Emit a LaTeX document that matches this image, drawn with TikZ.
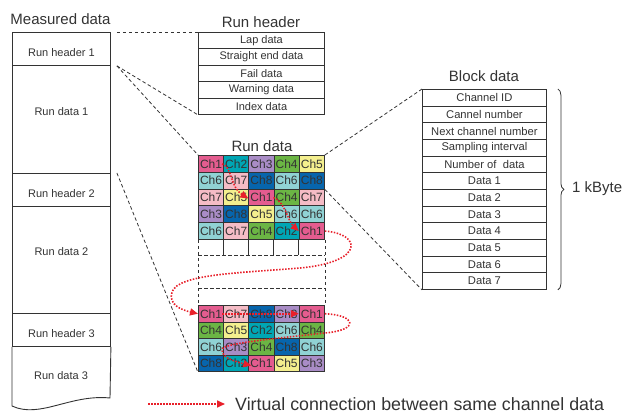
\documentclass[tikz,border=0pt]{standalone}
\usepackage{fontspec}
\setmainfont{Liberation Sans}
\usetikzlibrary{arrows.meta,decorations.pathreplacing,calc}

\definecolor{ink}{HTML}{333333}
\definecolor{vred}{HTML}{E8202A}
\definecolor{ch1}{HTML}{E45C8F}
\definecolor{ch2}{HTML}{00A6B4}
\definecolor{ch3}{HTML}{A98CC6}
\definecolor{ch4}{HTML}{6BB544}
\definecolor{ch5}{HTML}{F4EF8E}
\definecolor{ch6}{HTML}{90D2D4}
\definecolor{ch7}{HTML}{F5BCC6}
\definecolor{ch8}{HTML}{0765AC}

\tikzset{
  title/.style={font=\fontsize{15}{15}\selectfont, text=ink, inner sep=0pt},
  colbox/.style={draw=ink, line width=0.9pt, minimum width=98pt, inner sep=0pt, anchor=north west},
  collabel/.style={font=\fontsize{11}{11}\selectfont, text=ink, inner sep=0pt},
  hdrrow/.style={draw=ink, line width=0.9pt, minimum width=126pt, minimum height=16.4pt, inner sep=0pt,
    anchor=north west, font=\fontsize{11}{11}\selectfont, text=ink},
  blkrow/.style={draw=ink, line width=0.9pt, minimum width=124pt, minimum height=16.667pt, inner sep=0pt,
    anchor=north west, font=\fontsize{11.2}{11.2}\selectfont, text=ink},
  cell/.style={draw=ink, line width=0.9pt, minimum width=25.2pt, inner sep=0pt, anchor=north west,
    font=\fontsize{12}{12}\selectfont, text=ink},
  dsh/.style={draw=ink, line width=0.8pt, dash pattern=on 3.5pt off 2.5pt},
  vc/.style={draw=vred, line width=1.6pt, dash pattern=on 1.5pt off 1.5pt,
    -{Triangle[length=8pt,width=7pt,fill=vred]}},
}

\begin{document}
\begin{tikzpicture}[x=1pt,y=-1pt]
\useasboundingbox (0,0) rectangle (624,414);

% ---------- measured data column ----------
\node[title] (tmeas) at (60.5,19) {Measured data};
\node[colbox, minimum height=33pt]  (rh1) at (12,32)  {};
\node[colbox, minimum height=108pt] (rd1) at (12,65)  {};
\node[colbox, minimum height=33pt]  (rh2) at (12,173) {};
\node[colbox, minimum height=107pt] (rd2) at (12,206) {};
\node[colbox, minimum height=33pt]  (rh3) at (12,313) {};
\draw[ink, line width=0.9pt] (rh3.south west) -- (12,406)
  .. controls (40,419) and (70,394) .. (110,398) -- (rh3.south east);
\node[collabel] at ($(rh1.center)+(0,4)$) {Run header 1};
\node[collabel] at ($(rd1.center)+(0,-8)$) {Run data 1};
\node[collabel] at ($(rh2.center)+(0,4)$) {Run header 2};
\node[collabel] at ($(rd2.center)+(0,-8)$) {Run data 2};
\node[collabel] at ($(rh3.center)+(0,4)$) {Run header 3};
\node[collabel] at (61,376) {Run data 3};

% ---------- run header ----------
\node[title] (thdr) at (261,22) {Run header};
\foreach \t [count=\i] in {Lap data, Straight end data, Fail data, Warning data, Index data}
  \node[hdrrow] (hd\i) at (198,{32+(\i-1)*16.4}) {\t};

% ---------- run data grids ----------
\node[title] (trun) at (262,146) {Run data};
\foreach \row [count=\r] in {{1,2,3,4,5},{6,7,8,6,8},{7,5,1,4,7},{3,8,5,6,6},{6,7,4,2,1}}
  \foreach \ch [count=\c] in \row
    \node[cell, minimum height=16.8pt, fill=ch\ch] (g1-\r-\c) at ({198+(\c-1)*25.2},{155+(\r-1)*16.8}) {Ch\ch};
\foreach \row [count=\r] in {{1,7,8,3,1},{4,5,2,6,4},{6,3,4,8,6},{8,2,1,5,3}}
  \foreach \ch [count=\c] in \row
    \node[cell, minimum height=16.6pt, fill=ch\ch] (g2-\r-\c) at ({198+(\c-1)*25.2},{305+(\r-1)*16.6}) {Ch\ch};

% omitted blocks between the two grids
\coordinate (gapA) at (198,255);
\coordinate (gapB) at (198,288);
\foreach \c in {2,...,5}
  \draw[ink, line width=0.9pt] (g1-5-\c.south west) -- (g1-5-\c.south west |- gapA);
\draw[dsh] (g1-5-1.south west) -- (g2-1-1.north west);
\draw[dsh] (g1-5-5.south east) -- (g2-1-5.north east);
\draw[dsh] (gapA) -- (gapA -| g1-5-5.south east);
\draw[dsh] (gapB) -- (gapB -| g1-5-5.south east);

% ---------- block data ----------
\node[title] (tblk) at (484,76) {Block data};
\foreach \t [count=\i] in {Channel ID, Cannel number, Next channel number, Sampling interval,
    Number of\ \ data, Data 1, Data 2, Data 3, Data 4, Data 5, Data 6, Data 7}
  \node[blkrow] (bk\i) at (422,{89+(\i-1)*16.667}) {\t};
\draw[ink, line width=0.8pt, decorate, decoration={brace, amplitude=6pt}]
  ($(bk1.north east)+(11,0)$) -- ($(bk12.south east)+(11,0)$);
\node[title, anchor=west] (kb) at (572,189) {1 kByte};

% ---------- zoom-in guide lines ----------
\draw[dsh] ([xshift=6pt]rh1.north east) -- (hd1.north west);
\draw[dsh] ([xshift=6pt]rh1.south east) -- (hd5.south west);
\draw[dsh] ([xshift=6pt]rh1.south east) -- (g1-1-1.north west);
\draw[dsh] ([xshift=6pt]rh2.north east) -- (g2-4-1.south west);
\draw[dsh] (g1-1-5.north east) -- (bk1.north west);
\draw[dsh] (g1-2-5.south east) -- (bk12.south west);

% ---------- virtual connections of channel 1 ----------
\draw[vc] ([xshift=-2pt]g1-1-1.east) .. controls +(10,3) and +(-18,-11) .. ([yshift=-1pt]g1-3-3.west);
\draw[vc] ([xshift=-1pt]g1-3-3.east) .. controls +(12,5) and +(-11,-10) .. (g1-5-5.west);
\draw[vc] (g1-5-5.east) .. controls (362,234) and (365,262) .. (300,268)
  .. controls (240,273) and (178,274) .. (172,292)
  .. controls (168,305) and (182,310) .. (g2-1-1.west);
\draw[vc] ([xshift=-2pt]g2-1-1.east) -- (g2-1-5.west);
\draw[vc] (g2-1-5.east) .. controls (356,315) and (360,330) .. (325,333)
  .. controls (290,337) and (232,342) .. (223,348)
  .. controls (219,356) and (232,361) .. ([xshift=3pt,yshift=-2pt]g2-4-3.west);

% ---------- legend ----------
\coordinate (lg) at (148,404);
\node[anchor=west, inner sep=0pt, font=\fontsize{17.8}{17.8}\selectfont, text=ink] (lgt) at (235,404)
  {Virtual connection between same channel data};
\draw[vc] (lg) -- ([xshift=-10pt]lgt.west);
\end{tikzpicture}
\end{document}
